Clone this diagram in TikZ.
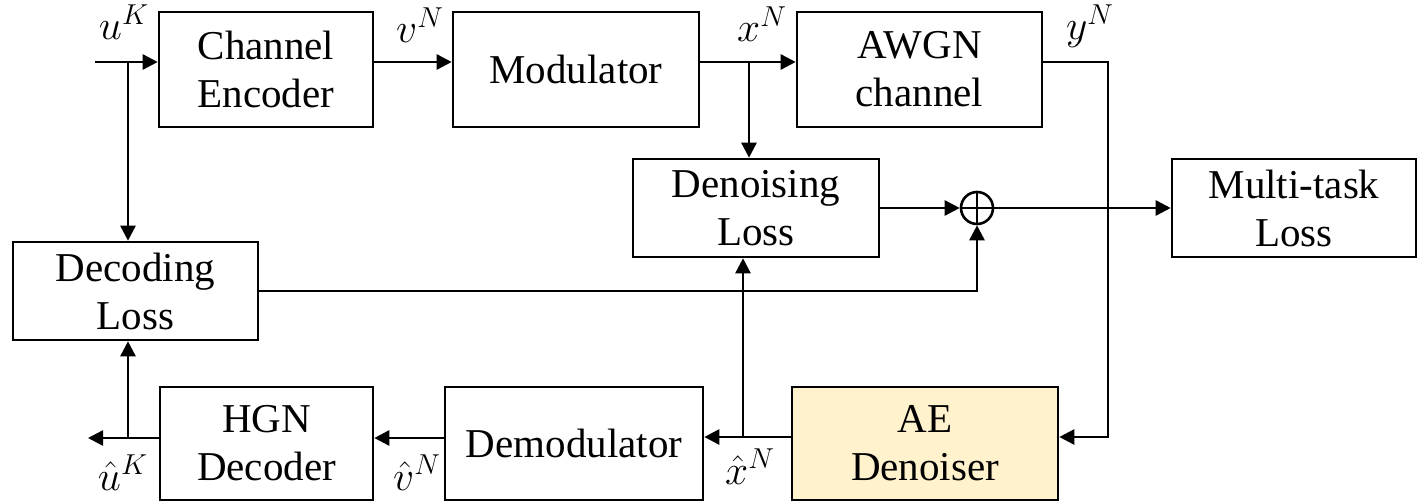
\documentclass[tikz,border=0pt]{standalone}
\usepackage{fontspec}
\setmainfont{Liberation Serif}
\newfontfamily\tnr{Liberation Serif}
\usetikzlibrary{arrows.meta,calc}
\definecolor{aefill}{HTML}{FFF2CC}
\begin{document}
\begin{tikzpicture}[x=0.5pt,y=-0.5pt,
  blk/.style={draw, line width=1.3pt, inner sep=0pt, align=center, font=\tnr\fontsize{20.5}{24}\selectfont},
  conn/.style={line width=1.3pt},
  arr/.style={conn, -{Triangle[length=7.5pt,width=7.5pt]}},
  lbl/.style={anchor=base, font=\tnr\fontsize{21.5}{24}\selectfont, inner sep=0pt}]
\useasboundingbox (0,0) rectangle (1418,502);
% blocks
\node[blk, minimum width=107pt, minimum height=57.5pt] (enc) at (266,69.5) {Channel\\Encoder};
\node[blk, minimum width=123pt, minimum height=57.5pt] (mod) at (576,69.5) {Modulator};
\node[blk, minimum width=122.5pt, minimum height=57.5pt] (awgn) at (919.5,69.5) {AWGN\\channel};
\node[blk, minimum width=123pt, minimum height=49pt] (den) at (756,208) {Denoising\\Loss};
\node[blk, minimum width=122pt, minimum height=49pt] (multi) at (1294,208) {Multi-task\\Loss};
\node[blk, minimum width=122.5pt, minimum height=49pt] (dec) at (135.5,291) {Decoding\\Loss};
\node[blk, minimum width=106.5pt, minimum height=56.5pt] (hgn) at (266.5,443.5) {HGN\\Decoder};
\node[blk, minimum width=129pt, minimum height=56.5pt] (demod) at (574,443.5) {Demodulator};
\node[blk, fill=aefill, minimum width=133pt, minimum height=56.5pt] (ae) at (925,443.5) {AE\\Denoiser};
\node[draw, circle, line width=1.3pt, minimum size=16pt, inner sep=0pt] (sum) at (977,208) {};
\draw[conn] (sum.north) -- (sum.south) (sum.west) -- (sum.east);
% coordinates
\coordinate (in) at (95,62);
\coordinate (jin) at (128,62);
\coordinate (jx) at (749,62);
\coordinate (yc1) at (1108,62);
\coordinate (yc2) at (1108,437);
\coordinate (out) at (88,438);
\coordinate (jout) at (128,438);
\coordinate (jxh) at (743,437);
% connectors
\draw[arr] (in) -- (enc.west |- in);
\draw[arr] (jin) -- (jin |- dec.north);
\draw[arr] (enc.east |- in) -- (mod.west |- in);
\draw[arr] (mod.east |- in) -- (awgn.west |- in);
\draw[arr] (jx) -- (jx |- den.north);
\draw[arr] (awgn.east |- in) -- (yc1) -- (yc2) -- (ae.east |- yc2);
\draw[arr] (ae.west |- jxh) -- (demod.east |- jxh);
\draw[arr] (jxh) -- (jxh |- den.south);
\draw[arr] (demod.west |- out) -- (hgn.east |- out);
\draw[arr] (hgn.west |- out) -- (out);
\draw[arr] (jout) -- (jout |- dec.south);
\draw[arr] (den.east) -- (sum.west);
\draw[arr] (dec.east) -- (dec.east -| sum) -- (sum.south);
\draw[arr] (sum.east) -- (multi.west);
% labels
\node[lbl] (lu) at (124,40) {$u^K$};
\node[lbl] (lv) at (420,43) {$v^N$};
\node[lbl] (lx) at (762,42) {$x^N$};
\node[lbl] (ly) at (1090,40) {$y^N$};
\node[lbl] (lhu) at (123,490) {$\hat{u}^K$};
\node[lbl] (lhv) at (417,490) {$\hat{v}^N$};
\node[lbl] (lhx) at (750,484) {$\hat{x}^N$};
\end{tikzpicture}
\end{document}
